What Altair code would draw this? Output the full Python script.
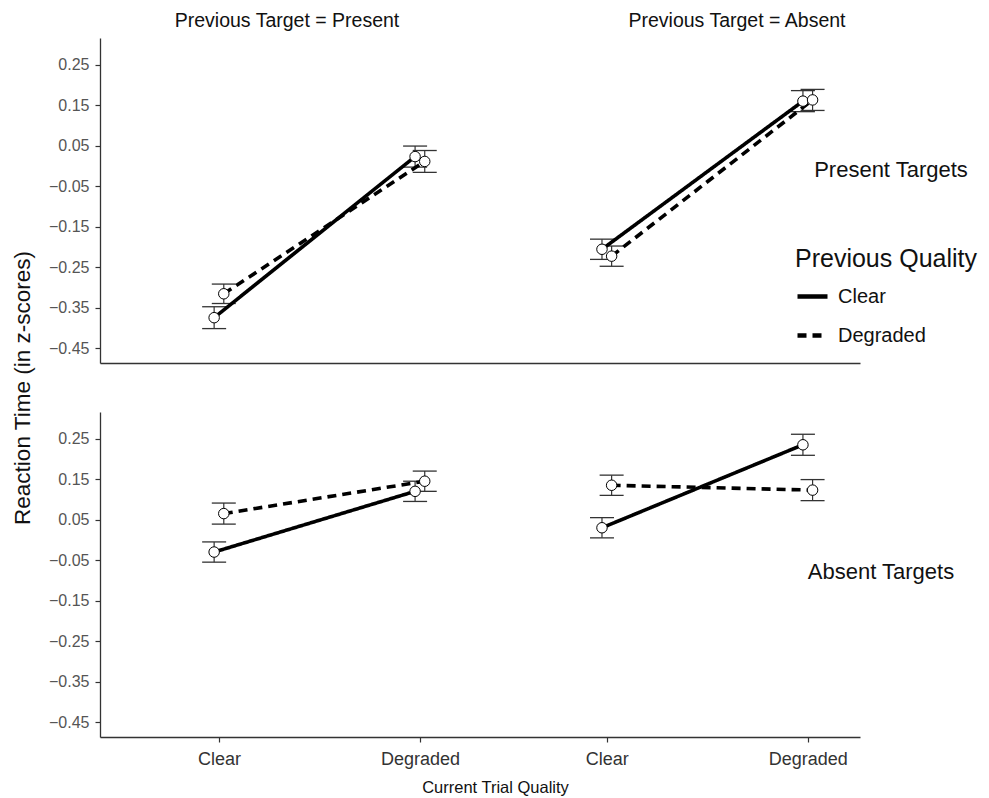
import altair as alt
import pandas as pd

# ---------------- data ----------------
col_titles = ["Previous Target = Present", "Previous Target = Absent"]
prev_target = ["Present", "Absent"]
row_labels = ["Present Targets", "Absent Targets"]
current_quality = ["Clear", "Degraded"]
previous_quality = ["Clear", "Degraded"]

# means (ordered by current trial quality: Clear, Degraded)
present_prevP_clear = [-0.375, 0.023]
present_prevP_degraded = [-0.316, 0.011]
present_prevA_clear = [-0.206, 0.160]
present_prevA_degraded = [-0.223, 0.163]
absent_prevP_clear = [-0.030, 0.120]
absent_prevP_degraded = [0.065, 0.145]
absent_prevA_clear = [0.030, 0.235]
absent_prevA_degraded = [0.135, 0.123]

# standard errors
present_prevP_clear_se = [0.027, 0.026]
present_prevP_degraded_se = [0.024, 0.027]
present_prevA_clear_se = [0.025, 0.026]
present_prevA_degraded_se = [0.025, 0.026]
absent_prevP_clear_se = [0.025, 0.025]
absent_prevP_degraded_se = [0.026, 0.025]
absent_prevA_clear_se = [0.025, 0.026]
absent_prevA_degraded_se = [0.025, 0.026]

y_ticks = [-0.45, -0.35, -0.25, -0.15, -0.05, 0.05, 0.15, 0.25]

series = [
    ("Present Targets", "Present", "Clear", present_prevP_clear, present_prevP_clear_se),
    ("Present Targets", "Present", "Degraded", present_prevP_degraded, present_prevP_degraded_se),
    ("Present Targets", "Absent", "Clear", present_prevA_clear, present_prevA_clear_se),
    ("Present Targets", "Absent", "Degraded", present_prevA_degraded, present_prevA_degraded_se),
    ("Absent Targets", "Present", "Clear", absent_prevP_clear, absent_prevP_clear_se),
    ("Absent Targets", "Present", "Degraded", absent_prevP_degraded, absent_prevP_degraded_se),
    ("Absent Targets", "Absent", "Clear", absent_prevA_clear, absent_prevA_clear_se),
    ("Absent Targets", "Absent", "Degraded", absent_prevA_degraded, absent_prevA_degraded_se),
]

COL_GAP = 1.93   # distance between the two "previous target" groups (in category units)
DODGE = 0.024

records = []
for row, pt, pq, means, ses in series:
    for qi, cq in enumerate(current_quality):
        xpos = prev_target.index(pt) * COL_GAP + qi + (-DODGE if pq == "Clear" else DODGE)
        records.append(dict(row=row, prev_target=pt, prev_quality=pq, current=cq,
                            xpos=xpos, mean=means[qi],
                            lo=means[qi] - ses[qi], hi=means[qi] + ses[qi]))
df = pd.DataFrame(records)

FONT = "Liberation Sans"
W, H = 760, 325
xscale = alt.Scale(domain=[-0.592, 3.19], nice=False, zero=False)
yscale = alt.Scale(domain=[-0.487, 0.316], nice=False, zero=False)
yaxis = alt.Axis(values=y_ticks, format=".2f", title=None, grid=False,
                 labelFontSize=16, labelColor="#555555", labelPadding=6,
                 tickSize=5, tickColor="#333333", domainColor="#333333",
                 domainWidth=1.3, tickWidth=1.2)

tick_vals = [0, 1, COL_GAP, COL_GAP + 1]


def panel(row_name, bottom):
    if bottom:
        xaxis = alt.Axis(values=tick_vals,
                         labelExpr=f"datum.value % {COL_GAP} < 0.5 ? 'Clear' : 'Degraded'",
                         title="Current Trial Quality", titleFontSize=16.5,
                         titleFontWeight="normal", titleColor="#111111",
                         titlePadding=11, titleX=395, grid=False,
                         labelFontSize=18, labelColor="#333333", labelPadding=8,
                         tickSize=5, tickColor="#333333", domainColor="#333333",
                         domainWidth=1.3, tickWidth=1.2)
    else:
        xaxis = alt.Axis(labels=False, ticks=False, title=None, grid=False,
                         domainColor="#333333", domainWidth=1.3)

    base = alt.Chart(df).transform_filter(alt.datum.row == row_name)
    X = alt.X("xpos:Q", scale=xscale, axis=xaxis)

    rules = base.mark_rule(color="#333333", strokeWidth=1.2).encode(
        x=X, y=alt.Y("lo:Q", scale=yscale, axis=yaxis), y2="hi:Q")
    cap_lo = base.mark_tick(orient="horizontal", size=24, thickness=1.3,
                            color="#333333", opacity=1).encode(
        x=X, y=alt.Y("lo:Q", scale=yscale, axis=yaxis))
    cap_hi = base.mark_tick(orient="horizontal", size=24, thickness=1.3,
                            color="#333333", opacity=1).encode(
        x=X, y=alt.Y("hi:Q", scale=yscale, axis=yaxis))
    lines = base.mark_line(color="black", strokeWidth=3.6, strokeCap="butt").encode(
        x=X, y=alt.Y("mean:Q", scale=yscale, axis=yaxis),
        detail="prev_target:N",
        strokeDash=alt.StrokeDash(
            "prev_quality:N",
            scale=alt.Scale(domain=previous_quality, range=[[1, 0], [9, 6]]),
            legend=alt.Legend(title="Previous Quality", orient="none",
                              legendX=695, legendY=209,
                              titleFontSize=25, titleFontWeight="normal",
                              titleColor="#111111", titleFont=FONT, titleLimit=400,
                              labelFontSize=20, labelFont=FONT, labelColor="#111111",
                              labelLimit=300,
                              symbolType="stroke", symbolSize=900,
                              symbolStrokeWidth=4.5, symbolStrokeColor="black",
                              rowPadding=11, titlePadding=7, labelOffset=8)),
        order="xpos:Q")
    points = base.mark_circle(color="white", stroke="black", strokeWidth=1,
                              size=110, opacity=1).encode(
        x=X, y=alt.Y("mean:Q", scale=yscale, axis=yaxis))

    ri = row_labels.index(row_name)
    lab = alt.Chart(pd.DataFrame({"label": [row_name]})).mark_text(
        font=FONT, fontSize=22, color="#111111", align="center", baseline="middle").encode(
        text="label:N",
        x=alt.value(791 if ri == 0 else 781),
        y=alt.value(132 if ri == 0 else 160))

    layers = [rules, cap_lo, cap_hi, lines, points, lab]

    if not bottom:
        ct = alt.Chart(pd.DataFrame({"t": col_titles, "px": [187, 637]})).mark_text(
            font=FONT, fontSize=19.5, color="#111111", align="center",
            baseline="middle").encode(text="t:N", x=alt.X("px:Q", scale=None),
                                      y=alt.value(-17))
        layers.append(ct)
    else:
        yt = alt.Chart(pd.DataFrame({"t": ["Reaction Time (in z-scores)"]})).mark_text(
            font=FONT, fontSize=22.5, color="#111111", angle=270, align="center",
            baseline="middle").encode(text="t:N", x=alt.value(-77), y=alt.value(-24))
        layers.append(yt)

    return alt.layer(*layers).properties(width=W, height=H)


chart = alt.vconcat(panel("Present Targets", False), panel("Absent Targets", True),
                    spacing=49, bounds="flush").properties(
    padding={"left": 3, "top": 3, "right": 0, "bottom": 2}
).configure(font=FONT).configure_view(stroke=None).configure_axis(
    labelFont=FONT, titleFont=FONT)

chart.save("out.html", embed_options={"renderer": "svg", "actions": False})
